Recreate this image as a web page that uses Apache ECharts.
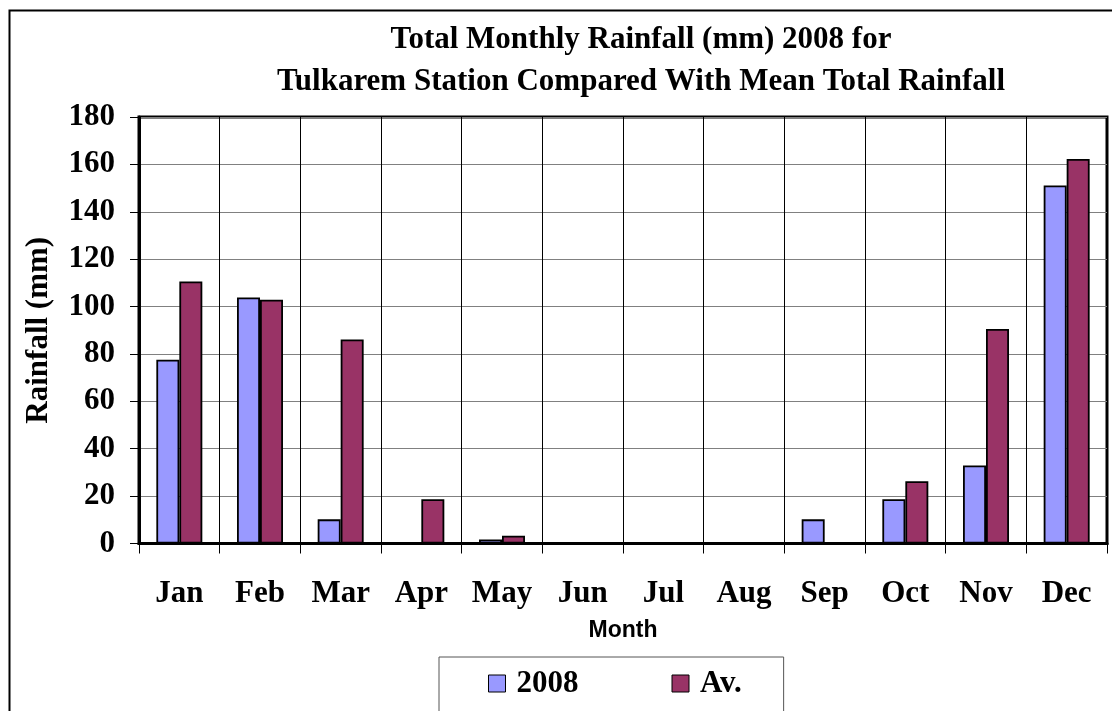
<!DOCTYPE html>
<html>
<head>
<meta charset="utf-8">
<style>
  html, body { margin: 0; padding: 0; background: #fff; }
  #chart { width: 1112px; height: 711px; }
</style>
<script src="https://cdn.jsdelivr.net/npm/echarts@6/dist/echarts.min.js"></script>
</head>
<body>
<div id="chart"></div>
<script>
// Monthly rainfall at Tulkarem station (mm)
const months = ['Jan', 'Feb', 'Mar', 'Apr', 'May', 'Jun', 'Jul', 'Aug', 'Sep', 'Oct', 'Nov', 'Dec'];
const rain2008 = [77.6, 103.8, 10.2, 0, 1.7, 0, 0, 0, 10.2, 18.7, 32.9, 151.1];
const rainMean = [110.6, 102.9, 86.1, 18.7, 3.3, 0, 0, 0, 0, 26.3, 90.5, 162.3];
const yTicks = { min: 0, max: 180, interval: 20 };

const serif = '"Liberation Serif", "Times New Roman", serif';
const sans = '"Liberation Sans", Arial, sans-serif';

const chart = echarts.init(document.getElementById('chart'));
chart.setOption({
  animation: false,
  backgroundColor: '#ffffff',
  title: {
    text: 'Total Monthly Rainfall (mm) 2008 for\nTulkarem Station Compared With Mean Total Rainfall',
    left: 641,
    top: 19,
    padding: 0,
    textAlign: 'center',
    textStyle: {
      fontFamily: serif,
      fontWeight: 'bold',
      fontSize: 31,
      lineHeight: 42,
      color: '#000'
    }
  },
  graphic: [{
    type: 'rect',
    silent: true,
    z: -10,
    shape: { x: 9.5, y: 10.5, width: 1200, height: 800 },
    style: { fill: 'none', stroke: '#000', lineWidth: 2 }
  }],
  legend: {
    left: 439,
    top: 657,
    padding: [11, 42, 40, 49],
    icon: 'rect',
    itemWidth: 17,
    itemHeight: 17,
    itemGap: 93,
    backgroundColor: '#fff',
    borderColor: '#555',
    borderWidth: 1,
    itemStyle: { borderColor: '#000', borderWidth: 1 },
    textStyle: {
      fontFamily: serif,
      fontWeight: 'bold',
      fontSize: 31,
      color: '#000',
      padding: [0, 0, 0, 6]
    },
    data: ['2008', 'Av.']
  },
  grid: {
    left: 139,
    right: 5,
    top: 117,
    bottom: 167.5,
    show: true,
    borderColor: '#000',
    borderWidth: 3,
    containLabel: false
  },
  xAxis: {
    type: 'category',
    data: months,
    name: 'Month',
    nameLocation: 'middle',
    nameGap: 76,
    nameTextStyle: {
      fontFamily: sans,
      fontWeight: 'bold',
      fontSize: 23,
      color: '#000'
    },
    axisLine: { lineStyle: { color: '#000', width: 3 } },
    axisTick: { show: true, inside: false, length: 10, lineStyle: { color: '#000', width: 1 } },
    axisLabel: {
      margin: 35,
      fontFamily: serif,
      fontWeight: 'bold',
      fontSize: 31,
      color: '#000',
      interval: 0
    },
    splitLine: { show: true, interval: 0, lineStyle: { color: '#000', width: 1 } }
  },
  yAxis: {
    type: 'value',
    min: yTicks.min,
    max: yTicks.max,
    interval: yTicks.interval,
    name: 'Rainfall (mm)',
    nameLocation: 'middle',
    nameGap: 85,
    nameRotate: 90,
    nameTextStyle: {
      fontFamily: serif,
      fontWeight: 'bold',
      fontSize: 31,
      color: '#000'
    },
    axisLine: { show: true, lineStyle: { color: '#000', width: 3 } },
    axisTick: { show: true, length: 9, lineStyle: { color: '#000', width: 1 } },
    axisLabel: {
      margin: 24,
      fontFamily: serif,
      fontWeight: 'bold',
      fontSize: 31,
      color: '#000'
    },
    splitLine: { show: true, lineStyle: { color: '#808080', width: 1.2 } }
  },
  series: [
    {
      name: '2008',
      type: 'bar',
      data: rain2008,
      barGap: '0%',
      barCategoryGap: '43%',
      itemStyle: { color: '#9999FF', borderColor: '#000', borderWidth: 1.8 }
    },
    {
      name: 'Av.',
      type: 'bar',
      data: rainMean,
      barGap: '0%',
      barCategoryGap: '43%',
      itemStyle: { color: '#993366', borderColor: '#000', borderWidth: 1.8 }
    }
  ]
});
</script>
</body>
</html>
